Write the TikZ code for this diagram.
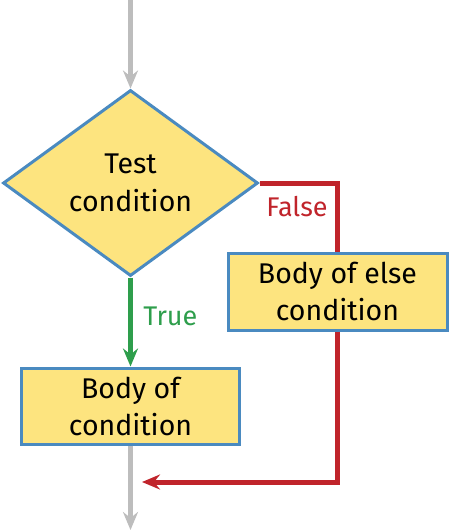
\documentclass[tikz,border=0pt]{standalone}
\usepackage{fontspec}
\setmainfont{Fira Sans}
\usepackage{tikz}
\usetikzlibrary{positioning}
\usetikzlibrary{shapes.geometric, arrows.meta}
\definecolor{boxfill}{HTML}{FDE47F}
\definecolor{boxline}{HTML}{4A8AC0}
\definecolor{flowred}{HTML}{C0242B}
\definecolor{flowgreen}{HTML}{2E9E4C}
\definecolor{flowgray}{HTML}{BDBDBD}
\tikzstyle{decision}=[draw=boxline, fill=boxfill, diamond, line width=3pt, minimum width=255pt, minimum height=186pt, inner sep=0pt, align=center, font=\fontsize{28.5}{38}\selectfont]
\tikzstyle{block}=[draw=boxline, fill=boxfill, rectangle, line width=3pt, minimum width=218pt, minimum height=76pt, inner sep=0pt, align=center, font=\fontsize{28.5}{37}\selectfont]
\tikzstyle{flow}=[line width=5pt, -{Stealth[length=18pt, width=15pt, inset=6pt]}]

\begin{document}
\begin{tikzpicture}[x=1pt, y=1pt]
            \useasboundingbox (0,0) rectangle (448,-530);
            \coordinate (start) at (130.5,0);
            \coordinate (stop) at (130.5,-530);
            \coordinate (join) at (142,-482);

            \node[decision] (test) at (130.5,-183) {Test\\condition};
            \node[block, below=89pt of test] (body) {Body of\\condition};
            \node[block, minimum width=219pt, minimum height=77pt] (else) at (337.5,-291.5) {Body of else\\condition};

            \draw[flow, flowgray] (start) -- (test.north);
            \draw[flow, flowgreen] (test.south) -- node[pos=0.44, right=7pt, text=flowgreen, font=\fontsize{27}{32}\selectfont] {True} (body.north);
            \draw[line width=5pt, flowred] (test.east) -| node[pos=0.675, left=4pt, text=flowred, font=\fontsize{27}{32}\selectfont] {False} (else.north);
            \draw[flow, flowred] (else.south) |- (join);
            \draw[flow, flowgray] (body.south) -- (stop);
        \end{tikzpicture}
\end{document}
